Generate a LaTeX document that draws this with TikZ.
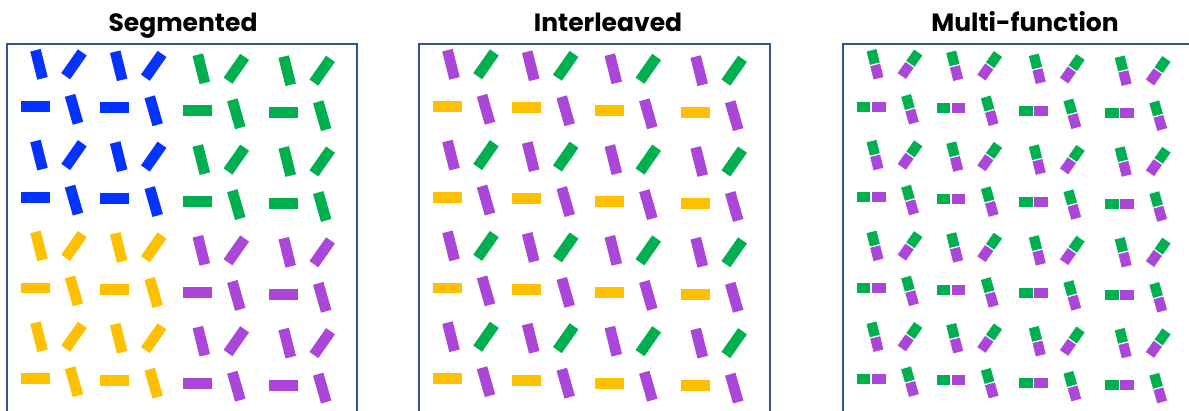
\documentclass[tikz,border=0pt]{standalone}
\usepackage{fontspec}
\newfontfamily\titlefont{Poppins}
\definecolor{barblue}{HTML}{0433FF}
\definecolor{bargreen}{HTML}{00B050}
\definecolor{bargold}{HTML}{FFC000}
\definecolor{barpurple}{HTML}{AB47D8}
\definecolor{frameblue}{HTML}{2F5597}
\tikzset{
    bar/.style={rectangle, inner sep=0pt, minimum width=10.8pt, minimum height=29pt}, % one element
    half/.style={rectangle, inner sep=0pt, minimum width=11pt, minimum height=14.5pt, draw=white, line width=0.6pt},
    frame/.style={draw=frameblue, line width=2.4pt},
    title/.style={font=\titlefont\bfseries\fontsize{25}{30}\selectfont, inner sep=0pt, anchor=base}
}

\begin{document}
\begin{tikzpicture}[x=1pt, y=-1pt]
    \useasboundingbox (0,0) rectangle (1189,410);
    \clip (0,0) rectangle (1189,410);

    % titles
    \node[title] (tseg) at (183,31) {Segmented};
    \node[title] (tint) at (608,31) {Interleaved};
    \node[title] (tmul) at (1025,31) {Multi-function};

    % frames (open below the page)
    \draw[frame] (7,420) |- (357,44) -- (357,420);
    \draw[frame] (419,420) |- (770,44) -- (770,420);
    \draw[frame] (843,420) |- (1200,44);

    % Segmented: one colour per block
    \foreach \j/\cl/\cr in {0/barblue/bargreen, 1/barblue/bargreen, 2/bargold/barpurple, 3/bargold/barpurple}{
        \foreach \i/\cx/\dy/\col in {0/32/0/\cl, 1/111.7/1.5/\cl, 2/194.3/4.5/\cr, 3/280.2/6.4/\cr}{
            \pgfmathsetmacro\px{7+\cx}
            \pgfmathsetmacro\py{64.3+\dy+90.8*\j}
            \node[bar, fill=\col, rotate=14] (s-\i-\j-a) at (\px,\py) {};
            \node[bar, fill=\col, rotate=-35] (s-\i-\j-b) at (\px+35,\py) {};
            \node[bar, fill=\col, rotate=90] (s-\i-\j-c) at (\px-4,\py+42) {};
            \node[bar, fill=\col, rotate=16] (s-\i-\j-d) at (\px+35,\py+45) {};
        }
    }

    % Interleaved: colours mixed in every cell
    \foreach \j in {0,...,3}{
        \foreach \i/\cx/\dy in {0/32/0, 1/111.7/1.5, 2/194.3/4.5, 3/280.2/6.4}{
            \pgfmathsetmacro\px{419+\cx}
            \pgfmathsetmacro\py{64.3+\dy+90.8*\j}
            \node[bar, fill=barpurple, rotate=14] (i-\i-\j-a) at (\px,\py) {};
            \node[bar, fill=bargreen, rotate=-35] (i-\i-\j-b) at (\px+35,\py) {};
            \node[bar, fill=bargold, rotate=90] (i-\i-\j-c) at (\px-4,\py+42) {};
            \node[bar, fill=barpurple, rotate=16] (i-\i-\j-d) at (\px+35,\py+45) {};
        }
    }

    % Multi-function: every element split in two
    \foreach \j in {0,...,3}{
        \foreach \i/\cx/\dy in {0/32/0, 1/111.7/1.5, 2/194.3/4.5, 3/280.2/6.4}{
            \pgfmathsetmacro\px{843+\cx}
            \pgfmathsetmacro\py{64.3+\dy+90.8*\j}
            \node[half, fill=bargreen, rotate=14, anchor=south] (m-\i-\j-ag) at (\px,\py) {};
            \node[half, fill=barpurple, rotate=14, anchor=north] (m-\i-\j-ap) at (\px,\py) {};
            \node[half, fill=bargreen, rotate=-35, anchor=south] (m-\i-\j-bg) at (\px+35,\py) {};
            \node[half, fill=barpurple, rotate=-35, anchor=north] (m-\i-\j-bp) at (\px+35,\py) {};
            \node[half, fill=bargreen, rotate=90, anchor=south] (m-\i-\j-cg) at (\px-4,\py+42) {};
            \node[half, fill=barpurple, rotate=90, anchor=north] (m-\i-\j-cp) at (\px-4,\py+42) {};
            \node[half, fill=bargreen, rotate=16, anchor=south] (m-\i-\j-dg) at (\px+35,\py+45) {};
            \node[half, fill=barpurple, rotate=16, anchor=north] (m-\i-\j-dp) at (\px+35,\py+45) {};
        }
    }
\end{tikzpicture}
\end{document}
